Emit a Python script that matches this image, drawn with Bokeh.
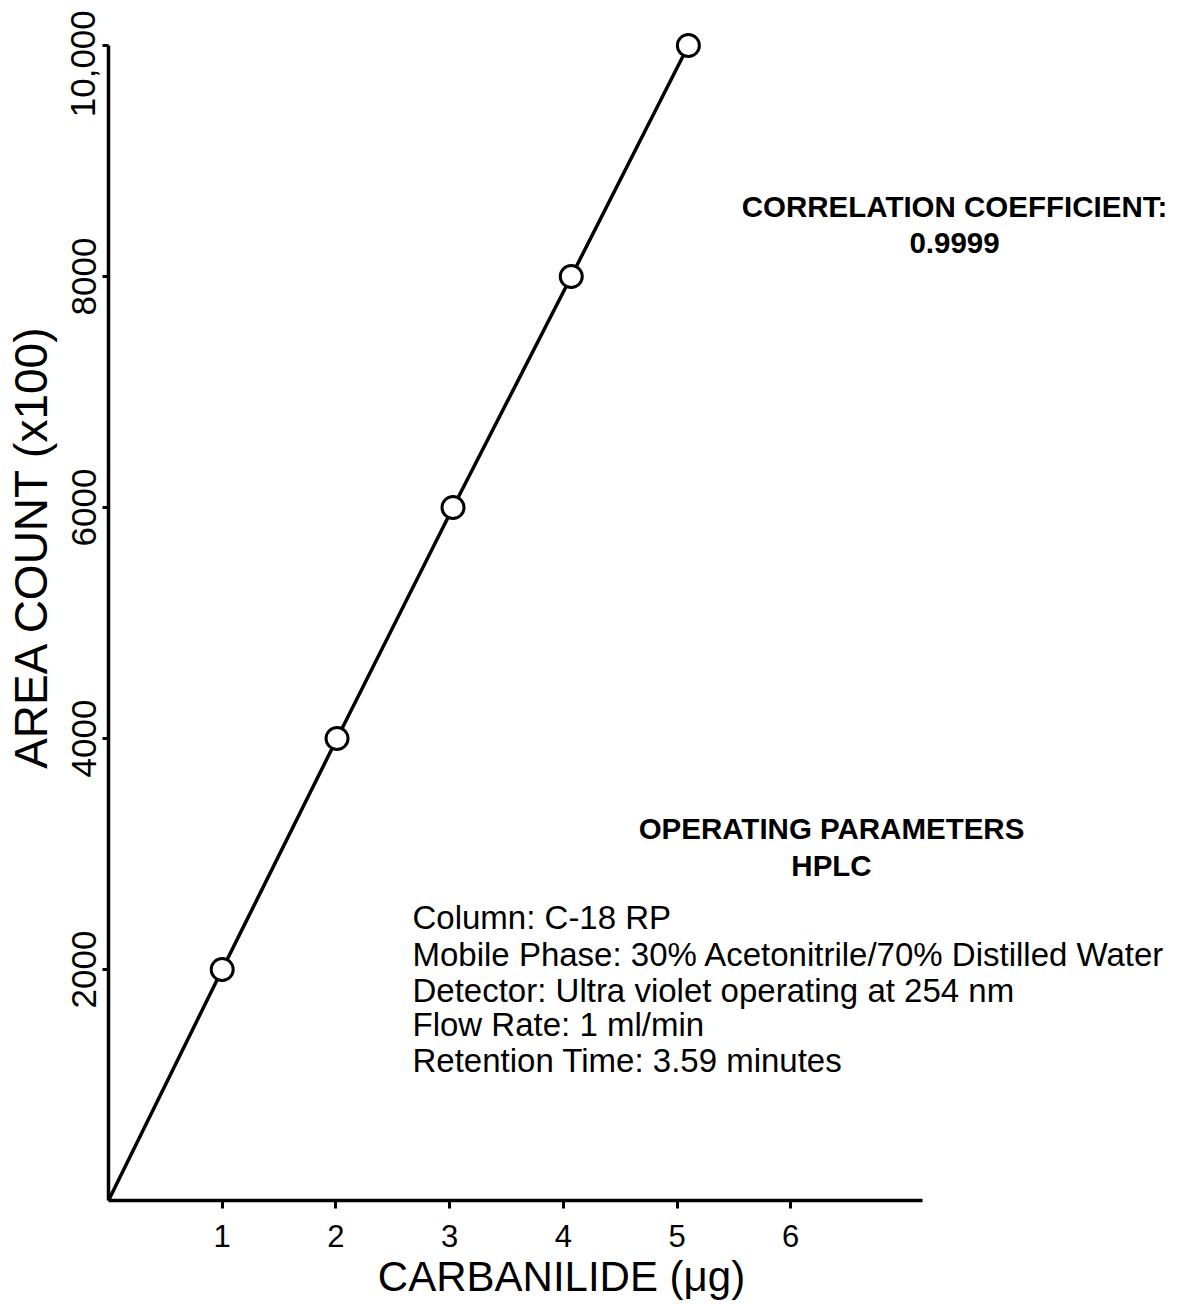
import math
from bokeh.plotting import figure
from bokeh.models import FixedTicker, Label, Range1d, LinearAxis
from bokeh.embed import file_html
from bokeh.resources import INLINE

# ---- data ----
conc_ug = [1.0, 2.01, 3.03, 4.07, 5.10]          # Carbanilide (µg)
area_count = [2000, 4000, 6000, 8000, 10000]      # Area count (x100)
x_ticks = [1, 2, 3, 4, 5, 6]
y_ticks = [2000, 4000, 6000, 8000, 10000]
y_tick_labels = ["2000", "4000", "6000", "8000", "10,000"]
x_title = "CARBANILIDE (\u03bcg)"
y_title = "AREA COUNT (x100)"
corr_lines = ["CORRELATION COEFFICIENT:", "0.9999"]
op_heads = ["OPERATING PARAMETERS", "HPLC"]
op_lines = [
    "Column: C-18 RP",
    "Mobile Phase: 30% Acetonitrile/70% Distilled Water",
    "Detector: Ultra violet operating at 254 nm",
    "Flow Rate: 1 ml/min",
    "Retention Time: 3.59 minutes",
]

FONT = "Liberation Sans"
W, H = 1172, 1300
X_AXIS_END = 7.16

# pixel geometry of the axes (page pixels)
X0_PX, Y0_PX = 108, 1200
PX_X = 113.7            # px per µg
PX_Y = 1155 / 10000     # px per area unit

def dx(px):
    return (px - X0_PX) / PX_X

def dy(py):
    return (Y0_PX - py) / PX_Y

p = figure(width=W, height=H,
           x_range=Range1d(dx(0), dx(W)), y_range=Range1d(dy(H), dy(0)),
           output_backend="svg", toolbar_location=None,
           x_axis_location=None, y_axis_location=None,
           min_border_left=0, min_border_right=0, min_border_top=0, min_border_bottom=0)
p.outline_line_color = None
p.xgrid.visible = False
p.ygrid.visible = False
p.background_fill_color = "white"
p.border_fill_color = "white"

xaxis = LinearAxis(fixed_location=0, bounds=(0, X_AXIS_END), ticker=FixedTicker(ticks=x_ticks))
yaxis = LinearAxis(fixed_location=0, bounds=(0, 10000), ticker=FixedTicker(ticks=y_ticks))

for ax in (xaxis, yaxis):
    ax.axis_line_width = 3.5
    ax.axis_line_color = "black"
    ax.major_tick_line_width = 3
    ax.major_tick_line_color = "black"
    ax.major_tick_in = 0
    ax.minor_tick_line_color = None
    ax.major_label_text_font = FONT
    ax.major_label_text_color = "black"

xaxis.major_tick_out = 8
xaxis.major_label_overrides = {t: str(t) for t in x_ticks}
xaxis.major_label_text_font_size = "31px"
xaxis.major_label_standoff = 16

ov = {t: s for t, s in zip(y_ticks, y_tick_labels)}
ov[10000] = "10,000" + "\u00a0"
yaxis.major_label_overrides = ov
yaxis.major_label_orientation = "vertical"
yaxis.major_label_text_font_size = "35px"
yaxis.major_tick_out = 6
yaxis.major_label_standoff = 0

p.add_layout(xaxis, "below")
p.add_layout(yaxis, "left")

# calibration line and points
p.line([0] + conc_ug, [0] + area_count, line_width=3.5, line_color="black")
p.scatter(conc_ug, area_count, marker="circle", size=22, fill_color="white",
          line_color="black", line_width=3)

p.add_layout(Label(x=dx(30), y=dy(546), text=y_title, angle=math.pi / 2,
                   text_align="center", text_baseline="middle",
                   text_font=FONT, text_font_size="46px", text_color="black"))
p.add_layout(Label(x=dx(561), y=dy(1276), text=x_title,
                   text_align="center", text_baseline="middle",
                   text_font=FONT, text_font_size="42px", text_color="black"))

for txt, py in zip(corr_lines, [206, 242]):
    p.add_layout(Label(x=dx(954), y=dy(py), text=txt, text_align="center",
                       text_baseline="middle", text_font=FONT, text_font_size="29.5px",
                       text_font_style="bold", text_color="black"))
for txt, py in zip(op_heads, [828, 865]):
    p.add_layout(Label(x=dx(831), y=dy(py), text=txt, text_align="center",
                       text_baseline="middle", text_font=FONT, text_font_size="29.5px",
                       text_font_style="bold", text_color="black"))
for txt, py in zip(op_lines, [917, 954, 990, 1024, 1060]):
    p.add_layout(Label(x=dx(412), y=dy(py), text=txt, text_align="left",
                       text_baseline="middle", text_font=FONT, text_font_size="33px",
                       text_color="black"))

open("out.html", "w").write(file_html(p, INLINE))
